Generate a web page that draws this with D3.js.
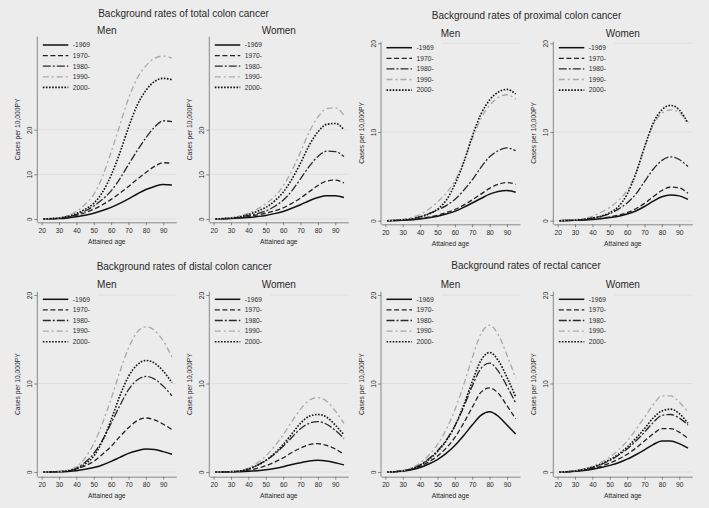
<!DOCTYPE html>
<html>
<head>
<meta charset="utf-8">
<script src="https://cdn.jsdelivr.net/npm/d3@7"></script>
<style>
  html, body { margin: 0; padding: 0; background: #ececec; }
  svg { display: block; font-family: "Liberation Sans", Arial, sans-serif; }
</style>
</head>
<body>
<svg id="chart" width="709" height="508"></svg>
<script>
// ---------------- DATA ----------------
const ages = [21, 25, 30, 35, 40, 45, 50, 55, 60, 65, 70, 75, 80, 85, 90, 95];
const cohorts = ["-1969", "1970-", "1980-", "1990-", "2000-"];
const xTicks = [20, 30, 40, 50, 60, 70, 80, 90];
const yTicks = [0, 10, 20];
const groupTitles = [
  "Background rates of total colon cancer",
  "Background rates of proximal colon cancer",
  "Background rates of distal colon cancer",
  "Background rates of rectal cancer"
];
const sexes = ["Men", "Women"];

// Cases per 10,000 PY, one array per cohort (-1969, 1970-, 1980-, 1990-, 2000-)
const totalColonMen = [
  [0, 0.05, 0.1, 0.25, 0.5, 0.85, 1.3, 1.9, 2.6, 3.5, 4.5, 5.6, 6.6, 7.3, 7.7, 7.6],
  [0, 0.05, 0.15, 0.4, 0.8, 1.4, 2.2, 3.2, 4.4, 5.8, 7.3, 8.9, 10.4, 11.8, 12.6, 12.5],
  [0, 0.05, 0.2, 0.5, 1.0, 1.8, 2.9, 4.4, 6.3, 9.0, 12.2, 15.3, 18.2, 20.6, 22.0, 21.8],
  [0, 0.1, 0.3, 0.8, 1.7, 3.3, 5.5, 9.5, 15, 21, 27, 31.5, 34.3, 36, 36.5, 36.0],
  [0, 0.1, 0.2, 0.6, 1.2, 2.2, 3.5, 6, 9.8, 14.8, 20.5, 25.5, 28.8, 30.8, 31.5, 31.2]
];
const totalColonWomen = [
  [0, 0.05, 0.1, 0.2, 0.35, 0.55, 0.8, 1.2, 1.7, 2.4, 3.2, 4.1, 4.8, 5.2, 5.2, 4.8],
  [0, 0.05, 0.15, 0.3, 0.55, 0.9, 1.3, 1.8, 2.5, 3.5, 4.7, 6.1, 7.5, 8.5, 8.7, 8.1],
  [0, 0.05, 0.2, 0.45, 0.8, 1.2, 1.8, 2.8, 4.2, 6.3, 9.0, 11.8, 14.0, 15.2, 15.1, 14.0],
  [0, 0.1, 0.3, 0.7, 1.3, 2.2, 3.4, 5.0, 7.4, 10.8, 15.0, 19.5, 22.8, 24.7, 24.9, 23.2],
  [0, 0.1, 0.2, 0.5, 1.0, 1.7, 2.6, 4.0, 6.0, 8.9, 12.5, 16.5, 19.5, 21.2, 21.4, 20.0]
];
const proximalColonMen = [
  [0, 0.02, 0.05, 0.1, 0.2, 0.32, 0.5, 0.75, 1.05, 1.5, 2.0, 2.5, 3.0, 3.3, 3.4, 3.2],
  [0, 0.02, 0.06, 0.12, 0.25, 0.4, 0.6, 0.9, 1.25, 1.75, 2.35, 3.0, 3.65, 4.1, 4.3, 4.1],
  [0, 0.03, 0.1, 0.2, 0.45, 0.8, 1.2, 1.7, 2.4, 3.4, 4.6, 6.0, 7.2, 7.9, 8.2, 7.9],
  [0, 0.05, 0.15, 0.35, 0.7, 1.3, 2.1, 3.1, 4.5, 6.6, 9.2, 11.5, 13.0, 13.9, 14.2, 13.7],
  [0, 0.03, 0.1, 0.2, 0.4, 0.75, 1.3, 2.3, 4.1, 6.5, 9.5, 12.0, 13.6, 14.5, 14.8, 14.3]
];
const proximalColonWomen = [
  [0, 0.02, 0.04, 0.08, 0.14, 0.22, 0.35, 0.5, 0.75, 1.1, 1.6, 2.2, 2.7, 2.9, 2.8, 2.4],
  [0, 0.02, 0.05, 0.1, 0.18, 0.28, 0.42, 0.62, 0.9, 1.35, 1.95, 2.7, 3.4, 3.8, 3.7, 3.1],
  [0, 0.02, 0.07, 0.15, 0.3, 0.5, 0.8, 1.3, 2.0, 3.0, 4.4, 5.8, 6.8, 7.2, 6.9, 6.1],
  [0, 0.03, 0.1, 0.25, 0.5, 0.95, 1.5, 2.3, 3.4, 5.4, 8.3, 10.8, 12.1, 12.5, 12.2, 10.9],
  [0, 0.02, 0.07, 0.15, 0.3, 0.5, 0.9, 1.6, 3.0, 5.3, 8.3, 11.0, 12.5, 13.0, 12.5, 11.0]
];
const distalColonMen = [
  [0, 0.01, 0.03, 0.07, 0.15, 0.3, 0.5, 0.8, 1.2, 1.65, 2.1, 2.4, 2.6, 2.55, 2.3, 2.0],
  [0, 0.01, 0.04, 0.12, 0.35, 0.7, 1.2, 2.0, 2.9, 4.0, 5.0, 5.8, 6.1, 5.9, 5.4, 4.8],
  [0, 0.01, 0.05, 0.15, 0.45, 1.1, 2.1, 3.6, 5.5, 7.5, 9.3, 10.4, 10.8, 10.5, 9.7, 8.6],
  [0, 0.01, 0.05, 0.2, 0.6, 1.6, 3.2, 5.5, 8.3, 11.3, 14.0, 15.8, 16.4, 16.0, 14.8, 13.0],
  [0, 0.01, 0.05, 0.12, 0.35, 0.9, 1.8, 3.5, 5.9, 8.6, 10.8, 12.1, 12.6, 12.3, 11.4, 10.1]
];
const distalColonWomen = [
  [0, 0.01, 0.02, 0.04, 0.08, 0.15, 0.25, 0.4, 0.6, 0.85, 1.05, 1.25, 1.32, 1.25, 1.05, 0.8],
  [0, 0.01, 0.03, 0.08, 0.2, 0.4, 0.7, 1.1, 1.6, 2.2, 2.7, 3.1, 3.2, 3.0, 2.6, 2.0],
  [0, 0.01, 0.04, 0.12, 0.35, 0.75, 1.3, 2.0, 2.9, 3.9, 4.9, 5.5, 5.7, 5.4, 4.7, 3.8],
  [0, 0.01, 0.05, 0.15, 0.45, 1.0, 1.8, 2.9, 4.2, 5.7, 7.1, 8.1, 8.4, 8.0, 6.9, 5.5],
  [0, 0.01, 0.04, 0.12, 0.35, 0.75, 1.3, 2.1, 3.1, 4.3, 5.5, 6.3, 6.5, 6.2, 5.3, 4.2]
];
const rectalMen = [
  [0, 0.03, 0.1, 0.25, 0.5, 0.9, 1.4, 2.1, 3.0, 4.1, 5.3, 6.4, 6.8, 6.3, 5.3, 4.3],
  [0, 0.03, 0.12, 0.3, 0.65, 1.15, 1.8, 2.7, 3.9, 5.5, 7.3, 9.0, 9.5, 8.9, 7.5, 6.0],
  [0, 0.03, 0.15, 0.4, 0.8, 1.5, 2.4, 3.6, 5.2, 7.3, 9.7, 11.7, 12.3, 11.4, 9.7, 7.8],
  [0, 0.03, 0.15, 0.45, 1.0, 1.9, 3.1, 4.8, 7.0, 9.8, 12.9, 15.6, 16.6, 15.5, 13.2, 10.6],
  [0, 0.03, 0.12, 0.35, 0.75, 1.4, 2.3, 3.5, 5.2, 7.5, 10.2, 12.6, 13.5, 12.6, 10.7, 8.5]
];
const rectalWomen = [
  [0, 0.03, 0.08, 0.18, 0.32, 0.5, 0.75, 1.05, 1.45, 1.95, 2.5, 3.1, 3.5, 3.5, 3.2, 2.7],
  [0, 0.03, 0.1, 0.22, 0.4, 0.65, 1.0, 1.45, 2.0, 2.7, 3.5, 4.3, 4.9, 4.9, 4.5, 3.8],
  [0, 0.03, 0.12, 0.28, 0.5, 0.85, 1.3, 1.9, 2.6, 3.5, 4.5, 5.6, 6.4, 6.5, 6.1, 5.3],
  [0, 0.04, 0.15, 0.35, 0.65, 1.1, 1.7, 2.5, 3.5, 4.8, 6.2, 7.6, 8.6, 8.6, 7.9, 6.8],
  [0, 0.03, 0.12, 0.3, 0.55, 0.9, 1.4, 2.0, 2.8, 3.8, 4.9, 6.1, 6.9, 7.1, 6.6, 5.5]
];

// ---------------- LAYOUT / STYLE ----------------
const bg = "#ececec";
const gridColor = "#dcdcdc";
const axisColor = "#6e6e6e";
const textColor = "#2a2a2a";
const smallFont = 6.7;
const titleFont = 10;
const plotW = 139;
const colLeft = [37.3, 209.3, 381, 553.3];

const styles = [
  { color: "#111", width: 1.5, dash: null },
  { color: "#222", width: 1.3, dash: "5,2.6" },
  { color: "#2a2a2a", width: 1.3, dash: "8,2,2,2" },
  { color: "#a8a8a8", width: 1.3, dash: "6,3,2,3" },
  { color: "#111", width: 1.6, dash: "1.6,1.5" }
];

const groups = [
  { title: groupTitles[0], titleX: 183.5, titleY: 16.6, cols: [0, 1], data: [totalColonMen, totalColonWomen],
    y0: 219, y20: 129.7, axisTop: 36.7, axisBottom: 222.3, legendY: 45, subY: 34.3 },
  { title: groupTitles[1], titleX: 526.5, titleY: 18.6, cols: [2, 3], data: [proximalColonMen, proximalColonWomen],
    y0: 220.7, y20: 43.3, axisTop: 41.7, axisBottom: 224.3, legendY: 47.7, subY: 37 },
  { title: groupTitles[2], titleX: 184.2, titleY: 270.3, cols: [0, 1], data: [distalColonMen, distalColonWomen],
    y0: 472, y20: 295, axisTop: 291.7, axisBottom: 476.7, legendY: 299.3, subY: 288 },
  { title: groupTitles[3], titleX: 526, titleY: 268.8, cols: [2, 3], data: [rectalMen, rectalWomen],
    y0: 472, y20: 295, axisTop: 291.7, axisBottom: 476.7, legendY: 299.3, subY: 288 }
];

const svg = d3.select("#chart");
svg.append("rect").attr("width", 709).attr("height", 508).attr("fill", bg);

groups.forEach(g => {
  svg.append("text")
    .attr("x", g.titleX).attr("y", g.titleY)
    .attr("text-anchor", "middle")
    .attr("font-size", titleFont).attr("fill", textColor)
    .text(g.title);

  g.cols.forEach((c, si) => {
    const left = colLeft[c];
    const x = d3.scaleLinear().domain([17.5, 97.5]).range([left, left + plotW]);
    const y = d3.scaleLinear().domain([0, 20]).range([g.y0, g.y20]);
    const panel = svg.append("g");

    // subtitle
    panel.append("text")
      .attr("x", left + plotW / 2).attr("y", g.subY)
      .attr("text-anchor", "middle")
      .attr("font-size", titleFont).attr("fill", textColor)
      .text(sexes[si]);

    // gridlines
    panel.append("g").selectAll("line").data(yTicks).join("line")
      .attr("x1", left).attr("x2", left + plotW)
      .attr("y1", d => y(d)).attr("y2", d => y(d))
      .attr("stroke", gridColor).attr("stroke-width", 0.8);

    // series
    const line = d3.line()
      .x((d, i) => x(ages[i]))
      .y(d => y(d))
      .curve(d3.curveMonotoneX);
    g.data[si].forEach((vals, k) => {
      panel.append("path")
        .datum(vals)
        .attr("d", line)
        .attr("fill", "none")
        .attr("stroke", styles[k].color)
        .attr("stroke-width", styles[k].width)
        .attr("stroke-dasharray", styles[k].dash);
    });

    // legend
    const rowH = 10.6;
    const lg = panel.append("g");
    lg.append("rect")
      .attr("x", left + 1).attr("y", g.legendY - 6)
      .attr("width", 60).attr("height", rowH * 5 + 2)
      .attr("fill", bg);
    cohorts.forEach((name, k) => {
      const ly = g.legendY + k * rowH;
      lg.append("line")
        .attr("x1", left + 5.5).attr("x2", left + 31)
        .attr("y1", ly).attr("y2", ly)
        .attr("stroke", styles[k].color)
        .attr("stroke-width", styles[k].width)
        .attr("stroke-dasharray", styles[k].dash);
      lg.append("text")
        .attr("x", left + 35.5).attr("y", ly)
        .attr("dy", "0.35em")
        .attr("font-size", smallFont).attr("fill", textColor)
        .text(name);
    });

    // x axis
    const xAxis = panel.append("g")
      .attr("transform", `translate(0,${g.axisBottom})`)
      .call(d3.axisBottom(x).tickValues(xTicks).tickSize(3).tickSizeOuter(0).tickPadding(2.5));
    xAxis.select(".domain").attr("stroke", axisColor).attr("stroke-width", 0.8);
    xAxis.selectAll(".tick line").attr("stroke", axisColor).attr("stroke-width", 0.8);
    xAxis.selectAll("text").attr("font-size", smallFont).attr("fill", textColor)
      .attr("font-family", "Liberation Sans, Arial, sans-serif");

    panel.append("text")
      .attr("x", left + plotW / 2).attr("y", g.axisBottom + 21.5)
      .attr("text-anchor", "middle")
      .attr("font-size", smallFont).attr("fill", textColor)
      .text("Attained age");

    // y axis
    const yAxis = panel.append("g")
      .attr("transform", `translate(${left},0)`)
      .call(d3.axisLeft(y).tickValues(yTicks).tickSize(3).tickSizeOuter(0));
    yAxis.select(".domain").remove();
    yAxis.append("line")
      .attr("x1", 0).attr("x2", 0)
      .attr("y1", g.axisTop).attr("y2", g.axisBottom)
      .attr("stroke", axisColor).attr("stroke-width", 0.8);
    yAxis.selectAll(".tick line").attr("stroke", axisColor).attr("stroke-width", 0.8);
    yAxis.selectAll("text")
      .attr("font-size", smallFont).attr("fill", textColor)
      .attr("font-family", "Liberation Sans, Arial, sans-serif")
      .attr("transform", "rotate(-90)")
      .attr("x", 0).attr("y", -5.5).attr("dy", null)
      .attr("text-anchor", "middle");

    panel.append("text")
      .attr("transform", `translate(${left - 17.5},${(g.axisTop + g.axisBottom) / 2}) rotate(-90)`)
      .attr("text-anchor", "middle")
      .attr("font-size", smallFont).attr("fill", textColor)
      .text("Cases per 10,000PY");
  });
});
</script>
</body>
</html>
